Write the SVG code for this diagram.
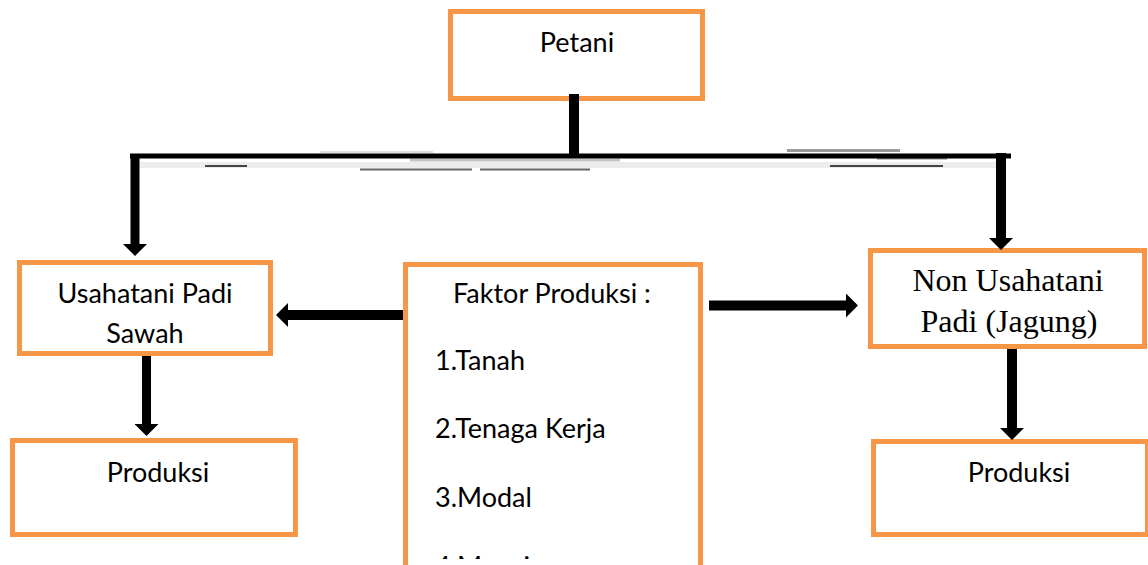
<svg xmlns="http://www.w3.org/2000/svg" width="1148" height="565" viewBox="0 0 1148 565">
<style>
.box{fill:#fff;stroke:#F79646;stroke-width:5}
.t{font-family:Lato,"Open Sans","Liberation Sans",sans-serif;font-size:27px;fill:#000}
.ts{font-family:"Liberation Serif","Times New Roman",serif;font-size:32px;fill:#000}
.c{text-anchor:middle}
.ln{stroke:#000;fill:none}
</style>
<defs>
<marker id="ah" markerUnits="userSpaceOnUse" markerWidth="12" markerHeight="24" viewBox="0 0 12 24" refX="0" refY="12" orient="auto">
<path d="M0,0 L12,12 L0,24 z" fill="#000"/>
</marker>
</defs>
<rect width="1148" height="565" fill="#fff"/>
<g id="node-petani">
<rect class="box" x="450.5" y="11.5" width="252" height="87"/>
<text class="t c" x="577" y="52">Petani</text>
</g>
<g id="node-usahatani">
<rect class="box" x="19.5" y="262.5" width="251" height="91"/>
<text class="t c" x="145" y="303">Usahatani Padi</text>
<text class="t c" x="145" y="343">Sawah</text>
</g>
<g id="node-produksi-left">
<rect class="box" x="12.5" y="440.5" width="283" height="94"/>
<text class="t c" x="158" y="482">Produksi</text>
</g>
<g id="node-faktor">
<rect class="box" x="405.5" y="264.5" width="295" height="400"/>
<text class="t" x="453" y="303">Faktor Produksi :</text>
<text class="t" x="435" y="370">1.Tanah</text>
<text class="t" x="435" y="438">2.Tenaga Kerja</text>
<text class="t" x="435" y="507">3.Modal</text>
<text class="t" x="435" y="576">4.Manajemen</text>
<rect x="408" y="559" width="290" height="6" fill="#fff"/>
</g>
<g id="node-non">
<rect class="box" x="870.5" y="250.5" width="274" height="96"/>
<text class="ts c" x="1008" y="291">Non Usahatani</text>
<text class="ts c" x="1009" y="332">Padi (Jagung)</text>
</g>
<g id="node-produksi-right">
<rect class="box" x="873.5" y="441.5" width="274" height="93"/>
<text class="t c" x="1019" y="482">Produksi</text>
</g>
<g id="connectors">
<g id="artifacts" stroke-linecap="butt">
<line x1="140" y1="165" x2="1000" y2="165" stroke="#ececec" stroke-width="6"/>
<line x1="410" y1="160" x2="620" y2="160" stroke="#c4c4c4" stroke-width="3"/>
<line x1="320" y1="152" x2="433" y2="152" stroke="#dcdcdc" stroke-width="2"/>
<line x1="205" y1="166" x2="247" y2="166" stroke="#444" stroke-width="2"/>
<line x1="360" y1="169.5" x2="472" y2="169.5" stroke="#666" stroke-width="2"/>
<line x1="480" y1="169.5" x2="590" y2="169.5" stroke="#666" stroke-width="2"/>
<line x1="787" y1="150.5" x2="900" y2="150.5" stroke="#999" stroke-width="3"/>
<line x1="877" y1="158.5" x2="947" y2="158.5" stroke="#888" stroke-width="2"/>
<line x1="830" y1="166" x2="943" y2="166" stroke="#444" stroke-width="2"/>
</g>
<line class="ln" x1="574" y1="94" x2="574" y2="155" stroke-width="10"/>
<line class="ln" x1="130" y1="156" x2="1011" y2="156" stroke-width="5"/>
<line class="ln" x1="135" y1="154" x2="135" y2="244" stroke-width="9" marker-end="url(#ah)"/>
<line class="ln" x1="1001" y1="153" x2="1001" y2="238" stroke-width="10" marker-end="url(#ah)"/>
<line class="ln" x1="403" y1="315" x2="288" y2="315" stroke-width="10" marker-end="url(#ah)"/>
<line class="ln" x1="709" y1="305.5" x2="846" y2="305.5" stroke-width="10" marker-end="url(#ah)"/>
<line class="ln" x1="146.5" y1="356" x2="146.5" y2="424" stroke-width="9" marker-end="url(#ah)"/>
<line class="ln" x1="1012" y1="349" x2="1012" y2="428" stroke-width="10" marker-end="url(#ah)"/>
</g>
</svg>
